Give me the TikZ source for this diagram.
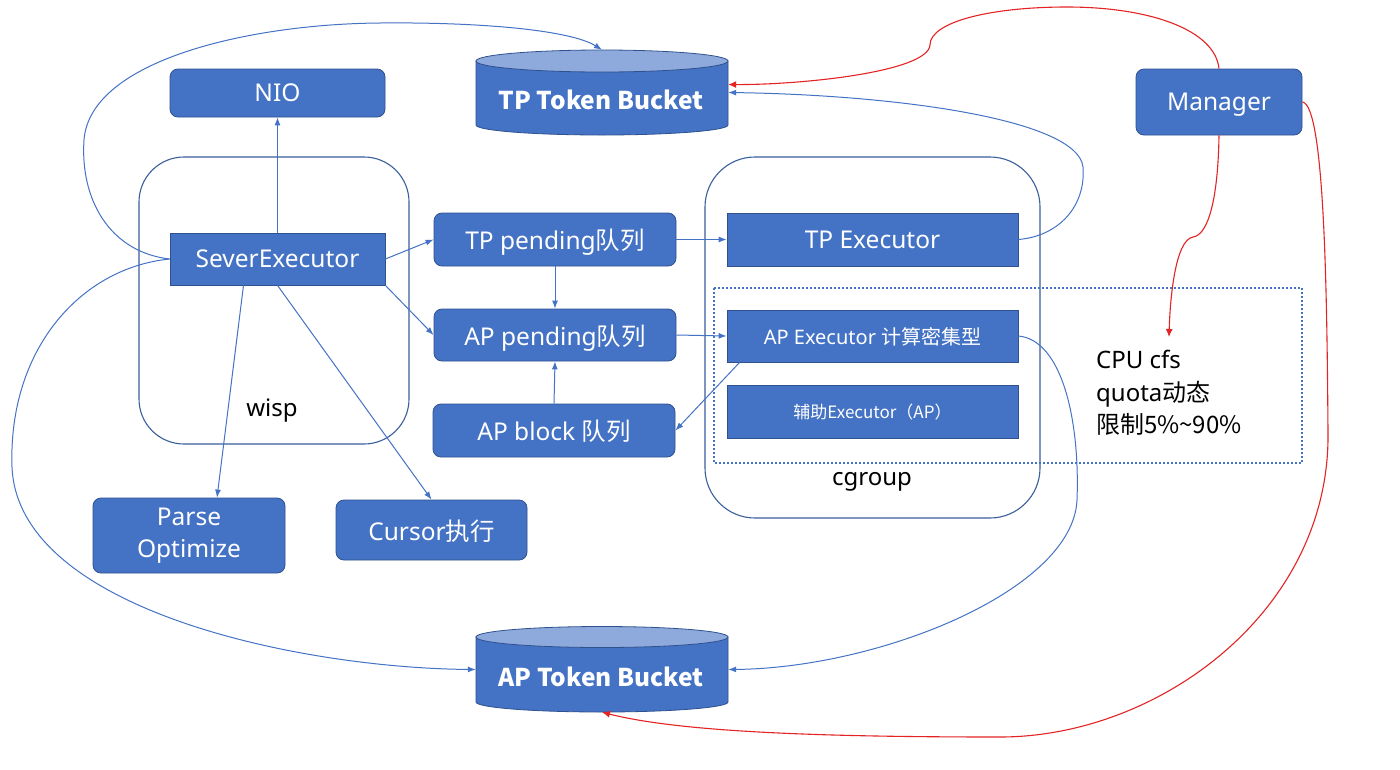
\documentclass[tikz,border=0pt]{standalone}
\usepackage{fontspec}
\setmainfont{Noto Sans}
\newfontfamily\cjk{Noto Sans CJK SC}
\usetikzlibrary{arrows.meta}
\definecolor{bfill}{HTML}{4472C4}
\definecolor{bstroke}{HTML}{2F528F}
\definecolor{btop}{HTML}{8EA9DB}
\definecolor{cont}{HTML}{3A5F9B}
\definecolor{rline}{HTML}{E42424}
\tikzset{
  base/.style={fill=bfill,draw=bstroke,line width=0.8pt,text=white,inner sep=0pt,
    font=\fontsize{24.5}{32}\selectfont,align=center},
  rbox/.style={base,rounded corners=8pt},
  sbox/.style={base},
  nodep/.style={text depth=0pt},
  bucketlbl/.style={inner sep=0pt,text=white,font=\cjk\fontsize{24.5}{28}\selectfont\bfseries},
  conn/.style={draw=bfill,line width=1pt,-{Latex[length=8pt,width=6pt]}},
  rconn/.style={draw=rline,line width=1.1pt,-{Latex[length=8pt,width=7pt]}},
  container/.style={draw=cont,line width=1.1pt},
  plain/.style={inner sep=0pt,text=black,font=\fontsize{24}{32.5}\selectfont}
}
\begin{document}
\begin{tikzpicture}[x=1pt,y=-1pt]
\useasboundingbox[fill=white] (0,0) rectangle (1400,769);
% containers
\draw[container,rounded corners=45pt] (139,157) rectangle (409,444);
\draw[container,rounded corners=50pt] (705,157) rectangle (1040,518);
\draw[draw=bfill,line width=2pt,dotted] (714,288) rectangle (1302,463);
\node[plain] (wisp) at (272,411) {wisp};
\node[plain] (cgroup) at (872,482) {cgroup};
% buckets
\filldraw[fill=bfill,draw=bstroke,line width=0.8pt] (476,61) -- (476,125) arc[start angle=180,end angle=360,x radius=126pt,y radius=10pt] -- (728,61) -- cycle;
\filldraw[fill=btop,draw=bstroke,line width=0.8pt] (602,61) ellipse[x radius=126pt,y radius=11pt];
\node[bucketlbl,minimum width=252pt,minimum height=85pt] (tpb) at (602,92.5) {};
\node[bucketlbl] at (601,100) {TP Token Bucket};
\filldraw[fill=bfill,draw=bstroke,line width=0.8pt] (476,637) -- (476,702) arc[start angle=180,end angle=360,x radius=126pt,y radius=10pt] -- (728,637) -- cycle;
\filldraw[fill=btop,draw=bstroke,line width=0.8pt] (602,637) ellipse[x radius=126pt,y radius=10.5pt];
\node[bucketlbl,minimum width=252pt,minimum height=85pt] (apb) at (602,669.5) {};
\node[bucketlbl] at (601,677) {AP Token Bucket};
% boxes
\node[rbox,nodep,minimum width=215pt,minimum height=48pt] (nio) at (277.5,93) {NIO};
\node[sbox,nodep,minimum width=215pt,minimum height=52pt] (se) at (277.5,259) {SeverExecutor};
\node[rbox,nodep,minimum width=242pt,minimum height=53pt] (tpq) at (555,239.5) {TP pending\cjk{队列}};
\node[rbox,nodep,minimum width=242pt,minimum height=52pt] (apq) at (555,335) {AP pending\cjk{队列}};
\node[rbox,nodep,minimum width=242pt,minimum height=53pt] (abq) at (554,430.5) {AP block \cjk{队列}};
\node[sbox,nodep,minimum width=291pt,minimum height=53pt] (tpx) at (872.5,239.5) {TP Executor};
\node[sbox,nodep,minimum width=291pt,minimum height=52pt,font=\fontsize{20}{22}\selectfont] (apx) at (872.5,336) {AP Executor \cjk{计算密集型}};
\node[sbox,nodep,minimum width=291pt,minimum height=53pt,font=\fontsize{17}{20}\selectfont] (aux) at (872.5,411.5) {\cjk{辅助}Executor\cjk{（AP）}};
\node[rbox,nodep,minimum width=166pt,minimum height=66pt] (mgr) at (1219,102) {Manager};
\node[rbox,minimum width=192pt,minimum height=75pt] (parse) at (189,535.5) {Parse\\Optimize};
\node[rbox,nodep,minimum width=191pt,minimum height=60pt] (cursor) at (431.5,530) {Cursor\cjk{执行}};
\node[plain,align=left,anchor=north west] (cpu) at (1096,350) {CPU cfs\\quota\cjk{动态}\\\cjk{限制}5\%\textasciitilde90\%};
\coordinate (cpuin) at (1169,337);
% straight connectors
\draw[conn] (se.north) -- (nio.south);
\draw[conn] (se.east) -- (tpq.west);
\draw[conn] (se.south east) -- (apq.west);
\draw[conn] (tpq.south) -- (apq.north);
\draw[conn] (abq.north) -- (apq.south);
\draw[conn] (tpq.east) -- (tpx.west);
\draw[conn] (apq.east) -- (apx.west);
\draw[conn] ([xshift=13pt]apx.south west) -- (abq.east);
\draw[conn] ([xshift=-34pt]se.south) -- ([xshift=28pt]parse.north);
\draw[conn] (se.south) -- (cursor.north);
% curved blue connectors
\draw[conn] (se.west) .. controls (110,252) and (80,200) .. (84,140)
  .. controls (90,60) and (250,24) .. (380,23)
  .. controls (480,22) and (570,30) .. (tpb.north);
\draw[conn] (se.west) .. controls (80,268) and (8,350) .. (12,467)
  .. controls (18,610) and (300,668) .. (apb.west);
\draw[conn] (tpx.east) .. controls (1060,236) and (1086,205) .. (1083,167)
  .. controls (1078,120) and (900,95) .. (tpb.east);
\draw[conn] (apx.east) .. controls (1062,340) and (1080,420) .. (1077,500)
  .. controls (1073,590) and (880,668) .. (apb.east);
% red connectors
\draw[rconn] (mgr.north) .. controls (1215,30) and (1150,7) .. (1067,7)
  .. controls (990,7) and (930,22) .. (930,45)
  .. controls (928,72) and (800,85) .. ([yshift=8pt]tpb.east);
\draw[rconn] (mgr.south) .. controls (1218,200) and (1208,235) .. (1193,237)
  .. controls (1175,240) and (1170,300) .. (cpuin);
\draw[rconn] (mgr.east) .. controls (1325,105) and (1327,300) .. (1328,433)
  .. controls (1330,610) and (1160,737) .. (1000,737)
  .. controls (820,737) and (680,732) .. (apb.south);
\end{tikzpicture}
\end{document}
